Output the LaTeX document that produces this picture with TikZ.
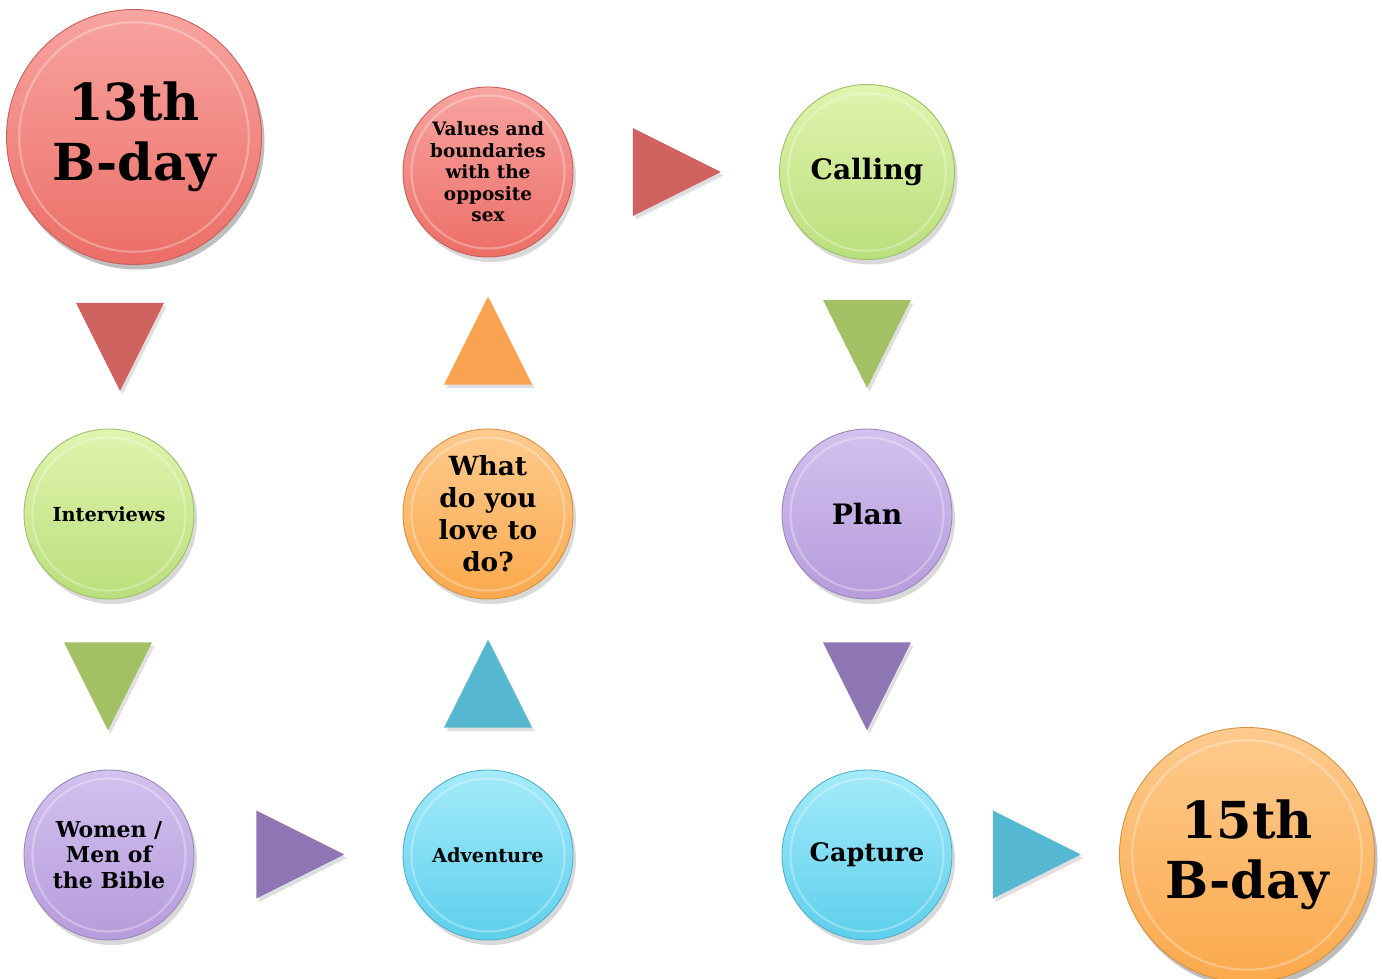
\documentclass[tikz,border=0pt]{standalone}
\usepackage{fontspec}
\setmainfont{DejaVu Serif}
\usetikzlibrary{positioning,shapes.geometric,shadows,calc}

\definecolor{redtop}{HTML}{F8A4A0}
\definecolor{redbot}{HTML}{EC6E67}
\definecolor{orangetop}{HTML}{FDCB8E}
\definecolor{orangebot}{HTML}{FBA94C}
\definecolor{greentop}{HTML}{E0F4AE}
\definecolor{greenbot}{HTML}{BADF7C}
\definecolor{purpletop}{HTML}{D3C1EF}
\definecolor{purplebot}{HTML}{B69CDB}
\definecolor{cyantop}{HTML}{A4EBFA}
\definecolor{cyanbot}{HTML}{5DCFEC}

\definecolor{redtri}{HTML}{D0625F}
\definecolor{orangetri}{HTML}{F9A24F}
\definecolor{greentri}{HTML}{A4C065}
\definecolor{purpletri}{HTML}{8F77B5}
\definecolor{cyantri}{HTML}{55B7D0}

\begin{document}
\begin{tikzpicture}[
    badge/.style={
        circle,
        inner sep=0pt,
        minimum size=3.4cm,
        align=center,
        line width=0.5pt,
        drop shadow={shadow xshift=0.06cm, shadow yshift=-0.1cm, opacity=0.3},
        path picture={
            \draw[white,opacity=0.3,line width=1.2pt]
              let \p1=($(path picture bounding box.north)-(path picture bounding box.center)$)
              in (path picture bounding box.center) circle[radius=0.9*\y1];
        },},
    bigbadge/.style={badge, minimum size=5.1cm,
        font=\bfseries\fontsize{29}{34}\selectfont},
    redbadge/.style={badge, top color=redtop, bottom color=redbot, draw=redbot!85!black},
    orangebadge/.style={badge, top color=orangetop, bottom color=orangebot, draw=orangebot!85!black},
    greenbadge/.style={badge, top color=greentop, bottom color=greenbot, draw=greenbot!85!black},
    purplebadge/.style={badge, top color=purpletop, bottom color=purplebot, draw=purplebot!85!black},
    cyanbadge/.style={badge, top color=cyantop, bottom color=cyanbot, draw=cyanbot!85!black},
    tri/.style={
        isosceles triangle,
        isosceles triangle stretches,
        inner sep=0pt,
        minimum width=1.76cm,
        minimum height=1.76cm,
        fill=#1,
        drop shadow={shadow xshift=0.05cm, shadow yshift=-0.07cm, opacity=0.25},},
    tridown/.style={tri=#1, rotate=-90},
    triup/.style={tri=#1, rotate=90},
    triright/.style={tri=#1},
]

\useasboundingbox (0,0) rectangle (27.64,-19.58);

% circles
\node[redbadge,bigbadge] (bday13) at (2.68,-2.74) {13th\\B-day};
\node[redbadge,font=\bfseries\fontsize{10.5}{12.2}\selectfont] (values) at (9.76,-3.44)
    {Values and\\boundaries\\with the\\opposite\\sex};
\node[greenbadge,minimum size=3.5cm,font=\bfseries\fontsize{16}{19}\selectfont] (calling) at (17.34,-3.44) {Calling};
\node[greenbadge,font=\bfseries\fontsize{11}{13}\selectfont] (interviews) at (2.18,-10.28) {Interviews};
\node[orangebadge,font=\bfseries\fontsize{15}{18.2}\selectfont] (love) at (9.76,-10.28)
    {What\\do you\\love to\\do?};
\node[purplebadge,font=\bfseries\fontsize{16}{19}\selectfont] (plan) at (17.34,-10.28) {Plan};
\node[purplebadge,font=\bfseries\fontsize{12.5}{14.5}\selectfont] (bible) at (2.18,-17.10)
    {Women /\\Men of\\the Bible};
\node[cyanbadge,font=\bfseries\fontsize{11}{13}\selectfont] (adventure) at (9.76,-17.10) {Adventure};
\node[cyanbadge,font=\bfseries\fontsize{14.5}{17}\selectfont] (capture) at (17.34,-17.10) {Capture};
\node[orangebadge,bigbadge] (bday15) at (24.94,-17.10) {15th\\B-day};

% arrows
\node[tridown=redtri] (a1) at (2.40,-6.60) {};
\node[tridown=greentri] (a2) at (2.16,-13.39) {};
\node[triright=purpletri] (a3) at (5.67,-17.09) {};
\node[triup=cyantri] (a4) at (9.76,-14.01) {};
\node[triup=orangetri] (a5) at (9.76,-7.15) {};
\node[triright=redtri] (a6) at (13.20,-3.44) {};
\node[tridown=greentri] (a7) at (17.34,-6.54) {};
\node[tridown=purpletri] (a8) at (17.34,-13.39) {};
\node[triright=cyantri] (a9) at (20.40,-17.09) {};

\end{tikzpicture}
\end{document}
